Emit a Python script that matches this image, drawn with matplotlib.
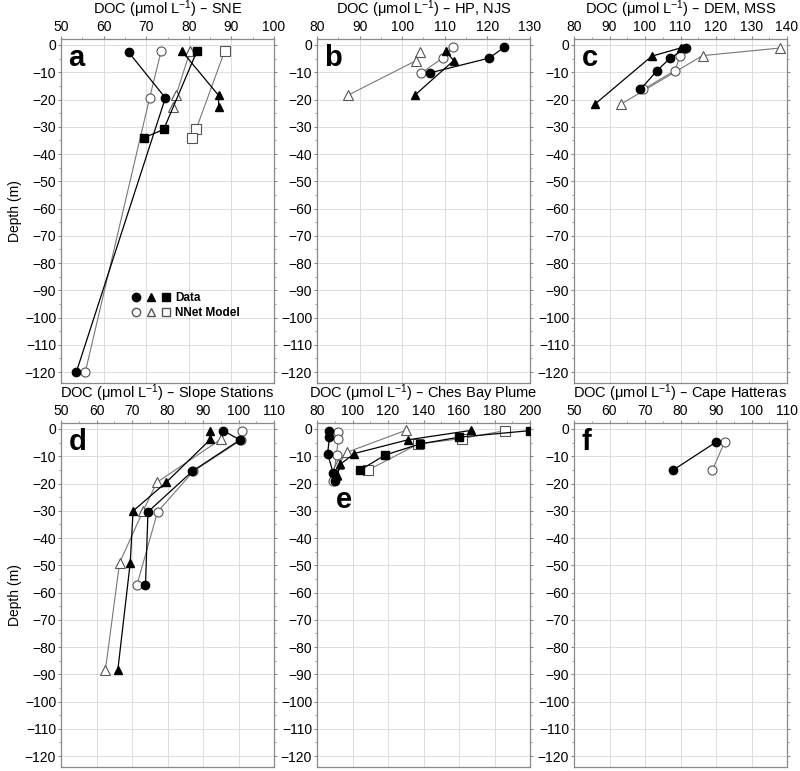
import matplotlib
matplotlib.use('Agg')
import matplotlib.pyplot as plt
from matplotlib.legend_handler import HandlerTuple
from matplotlib.ticker import MultipleLocator

plt.rcParams['font.family'] = ['Liberation Sans', 'DejaVu Sans']
plt.rcParams['mathtext.default'] = 'regular'

# ---- data: (DOC, depth) per station, data = filled, model = open ----
# a  SNE
a_circ_doc = [65.9, 74.5, 53.6];  a_circ_dep = [-2.7, -19.4, -120]
a_circ_mod = [73.5, 70.8, 55.7];  a_circ_mdep = [-2.3, -19.4, -120]
a_tri_doc = [78.4, 87.0, 87.0];   a_tri_dep = [-2.3, -18.5, -22.8]
a_tri_mod = [80.3, 77.0, 76.4];   a_tri_mdep = [-2.3, -18.5, -22.8]
a_sq_doc = [81.9, 74.1, 69.5];    a_sq_dep = [-2.3, -31.0, -34.0]
a_sq_mod = [88.4, 81.7, 80.7];    a_sq_mdep = [-2.3, -31.0, -34.0]
# b  HP, NJS
b_circ_doc = [123.9, 120.4, 106.6]; b_circ_dep = [-0.9, -4.8, -10.2]
b_circ_mod = [112.0, 109.5, 104.5]; b_circ_mdep = [-0.9, -4.8, -10.2]
b_tri_doc = [110.2, 112.1, 102.9];  b_tri_dep = [-2.3, -5.7, -18.5]
b_tri_mod = [104.1, 103.3, 87.2];   b_tri_mdep = [-2.6, -5.7, -18.5]
# c  DEM, MSS
c_tri_doc = [110.0, 101.9, 85.8];   c_tri_dep = [-1.1, -4.1, -21.8]
c_tri_mod = [138.1, 116.2, 93.1];   c_tri_mdep = [-1.1, -3.9, -21.8]
c_circ_doc = [111.5, 107.1, 103.4, 98.7]; c_circ_dep = [-1.2, -4.8, -9.4, -16.3]
c_circ_mod = [110.8, 109.9, 108.4, 99.5]; c_circ_mdep = [-1.5, -4.1, -9.4, -16.3]
# d  Slope Stations
d_circ_doc = [95.7, 100.4, 87.0, 74.5, 73.8]; d_circ_dep = [-0.6, -4.0, -15.5, -30.4, -57.2]
d_circ_mod = [101.1, 100.8, 87.3, 77.2, 71.4]; d_circ_mdep = [-0.9, -4.0, -15.5, -30.4, -57.2]
d_tri_doc = [92.1, 92.1, 79.6, 70.3, 69.5, 66.0]; d_tri_dep = [-0.6, -3.8, -19.6, -30.1, -49.1, -88.5]
d_tri_mod = [95.0, 77.0, 73.1, 66.5, 62.5];       d_tri_mdep = [-3.8, -19.6, -30.1, -49.1, -88.5]
# e  Ches Bay Plume
e_circ_doc = [86.5, 87.0, 86.0, 89.0, 90.0];  e_circ_dep = [-0.6, -3.0, -9.0, -16.0, -19.0]
e_circ_mod = [92.0, 92.0, 91.0, 89.5, 89.0];  e_circ_mdep = [-1.0, -3.5, -9.5, -16.5, -19.0]
e_tri_doc = [167.0, 131.0, 101.0, 93.0, 91.5]; e_tri_dep = [-0.5, -4.0, -9.0, -13.0, -17.0]
e_tri_mod = [130.0, 97.0, 92.0, 90.5];         e_tri_mdep = [-0.5, -8.5, -13.0, -17.0]
e_sq_doc = [200.0, 160.0, 138.0, 118.5, 104.0]; e_sq_dep = [-0.6, -3.0, -5.5, -9.5, -15.2]
e_sq_mod = [186.0, 161.5, 137.0, 109.0];        e_sq_mdep = [-0.6, -3.5, -5.5, -15.0]
# f  Cape Hatteras
f_circ_doc = [89.9, 78.0];  f_circ_dep = [-4.9, -15.0]
f_circ_mod = [92.4, 89.0];  f_circ_mdep = [-4.9, -15.0]

panels = [
    ('a', 'SNE', (50, 100), [
        ('o', a_circ_doc, a_circ_dep, a_circ_mod, a_circ_mdep),
        ('^', a_tri_doc, a_tri_dep, a_tri_mod, a_tri_mdep),
        ('s', a_sq_doc, a_sq_dep, a_sq_mod, a_sq_mdep)]),
    ('b', 'HP, NJS', (80, 130), [
        ('o', b_circ_doc, b_circ_dep, b_circ_mod, b_circ_mdep),
        ('^', b_tri_doc, b_tri_dep, b_tri_mod, b_tri_mdep)]),
    ('c', 'DEM, MSS', (80, 140), [
        ('^', c_tri_doc, c_tri_dep, c_tri_mod, c_tri_mdep),
        ('o', c_circ_doc, c_circ_dep, c_circ_mod, c_circ_mdep)]),
    ('d', 'Slope Stations', (50, 110), [
        ('o', d_circ_doc, d_circ_dep, d_circ_mod, d_circ_mdep),
        ('^', d_tri_doc, d_tri_dep, d_tri_mod, d_tri_mdep)]),
    ('e', 'Ches Bay Plume', (80, 200), [
        ('o', e_circ_doc, e_circ_dep, e_circ_mod, e_circ_mdep),
        ('^', e_tri_doc, e_tri_dep, e_tri_mod, e_tri_mdep),
        ('s', e_sq_doc, e_sq_dep, e_sq_mod, e_sq_mdep)]),
    ('f', 'Cape Hatteras', (50, 110), [
        ('o', f_circ_doc, f_circ_dep, f_circ_mod, f_circ_mdep)]),
]

W, H = 800, 771
fig = plt.figure(figsize=(8, 7.71), dpi=100)
lefts = [61, 317, 574]
tops = [39, 423]
aw, ah = 213, 344
spine_c = '#8a8a8a'
model_c = '#777777'

for i, (letter, name, xlim, series) in enumerate(panels):
    row, col = divmod(i, 3)
    ax = fig.add_axes([lefts[col] / W, 1 - (tops[row] + ah) / H, aw / W, ah / H])
    for mk, xd, yd, xm, ym in series:
        ax.plot(xm, ym, '-', color=model_c, lw=0.8, marker=mk, ms=6.5,
                mfc='white', mec='#555555', mew=0.8, zorder=3)
        ax.plot(xd, yd, '-', color='black', lw=0.9, marker=mk, ms=6,
                mfc='black', mec='black', zorder=4)
    ax.set_xlim(*xlim)
    ax.set_ylim(-124, 2.2)
    step = 20 if xlim[1] - xlim[0] > 100 else 10
    ax.xaxis.set_major_locator(MultipleLocator(step))
    ax.xaxis.set_minor_locator(MultipleLocator(step / 2))
    ax.yaxis.set_major_locator(MultipleLocator(10))
    ax.yaxis.set_minor_locator(MultipleLocator(5))
    ax.grid(True, which='major', color='#d8d8d8', lw=0.6)
    ax.set_axisbelow(True)
    ax.tick_params(which='both', direction='out', top=True, bottom=False,
                   labeltop=True, labelbottom=False, right=True, left=True,
                   color=spine_c, labelsize=10, pad=1)
    ax.tick_params(which='major', length=2.5)
    ax.tick_params(which='minor', length=1.5)
    for sp in ax.spines.values():
        sp.set_color(spine_c)
        sp.set_linewidth(0.9)
    ax.set_title('DOC (μmol L$^{-1}$) – ' + name, fontsize=10.5, pad=1.5)
    if letter == 'e':
        ax.text(0.09, 0.775, letter, transform=ax.transAxes, fontsize=21,
                fontweight='bold', ha='left', va='center')
    else:
        ax.text(0.035, 0.985, letter, transform=ax.transAxes, fontsize=21,
                fontweight='bold', ha='left', va='top')
    if col == 0:
        ax.set_ylabel('Depth (m)', fontsize=10, labelpad=2)

    if letter == 'a':
        kw = dict(ls='none', ms=6)
        filled = tuple(plt.Line2D([], [], marker=m, color='black', **kw) for m in 'o^s')
        hollow = tuple(plt.Line2D([], [], marker=m, mfc='white', mec='#555555',
                                  color='#555555', **kw) for m in 'o^s')
        ax.legend([filled, hollow], ['Data', 'NNet Model'],
                  handler_map={tuple: HandlerTuple(ndivide=None, pad=0.6)},
                  loc='center left', bbox_to_anchor=(0.285, 0.225),
                  frameon=False, handlelength=3.2, handletextpad=0.4,
                  labelspacing=0.3, prop={'weight': 'bold', 'size': 8.5})

fig.savefig('out.png', dpi=100)
